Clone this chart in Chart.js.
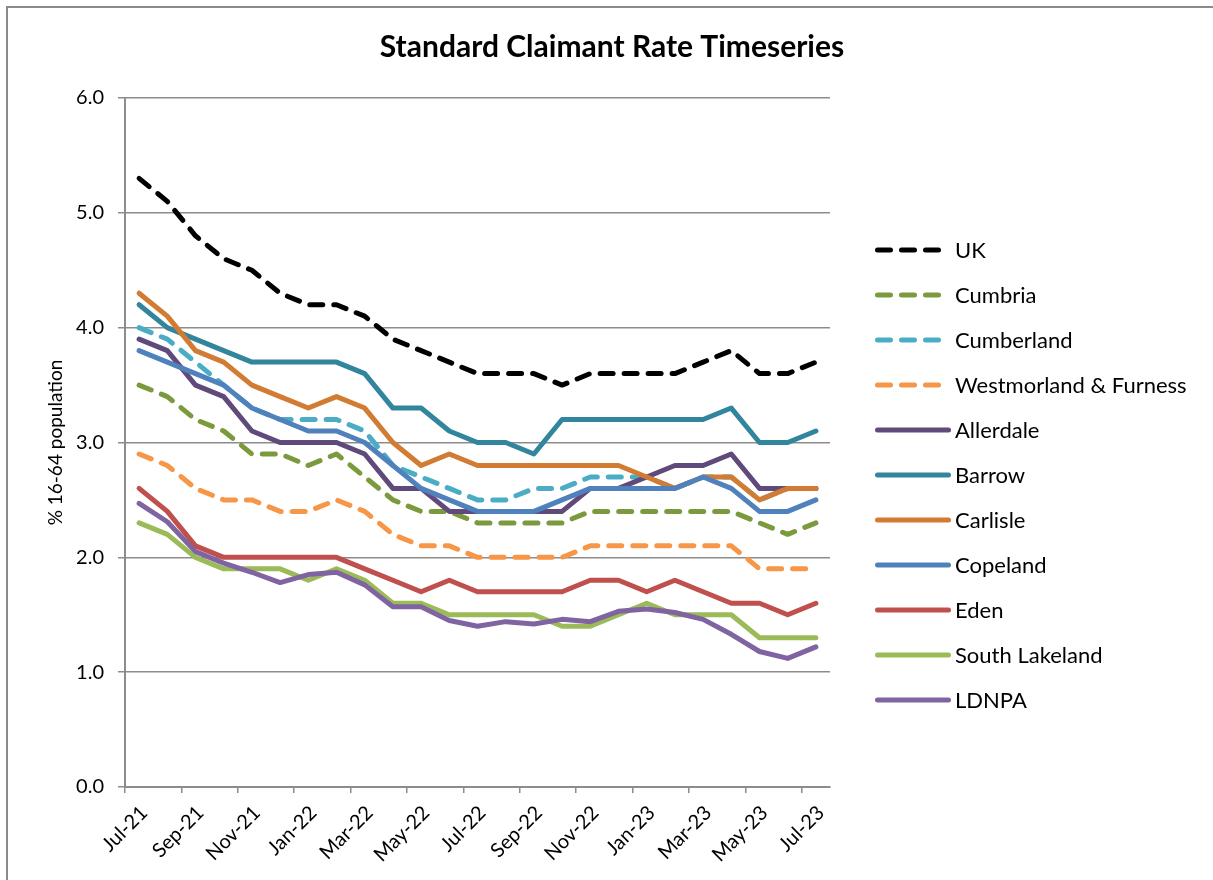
<!DOCTYPE html>
<html>
<head>
<meta charset="utf-8">
<title>Standard Claimant Rate Timeseries</title>
<script src="https://cdn.jsdelivr.net/npm/chart.js@4.4.1/dist/chart.umd.min.js"></script>
<style>
  body { margin: 0; background: #fff; font-family: Lato, sans-serif; }
  #frame { position: absolute; left: 6px; top: 6px; width: 1240px; height: 920px; border: 2px solid #8a8a8a; box-sizing: border-box; }
  #chart-wrap { position: absolute; left: 8px; top: 8px; width: 1208px; height: 880px; }
  #legend { position: absolute; left: 875px; top: 227px; }
  .legend-row { display: flex; align-items: center; height: 45px; font-size: 22px; color: #000; white-space: nowrap; }
  .legend-row svg { margin-right: 4px; }
</style>
</head>
<body>
<div id="frame"></div>
<div id="chart-wrap"><canvas id="rateChart" width="1208" height="880"></canvas></div>
<div id="legend"></div>
<script>
// months, Jul-21 .. Jul-23
const months = ["Jul-21", "Aug-21", "Sep-21", "Oct-21", "Nov-21", "Dec-21", "Jan-22", "Feb-22", "Mar-22",
  "Apr-22", "May-22", "Jun-22", "Jul-22", "Aug-22", "Sep-22", "Oct-22", "Nov-22", "Dec-22",
  "Jan-23", "Feb-23", "Mar-23", "Apr-23", "May-23", "Jun-23", "Jul-23"];

const uk = [5.3, 5.1, 4.8, 4.6, 4.5, 4.3, 4.2, 4.2, 4.1, 3.9, 3.8, 3.7, 3.6, 3.6, 3.6, 3.5, 3.6, 3.6, 3.6, 3.6, 3.7, 3.8, 3.6, 3.6, 3.7];
const cumbria = [3.5, 3.4, 3.2, 3.1, 2.9, 2.9, 2.8, 2.9, 2.7, 2.5, 2.4, 2.4, 2.3, 2.3, 2.3, 2.3, 2.4, 2.4, 2.4, 2.4, 2.4, 2.4, 2.3, 2.2, 2.3];
const cumberland = [4.0, 3.9, 3.7, 3.5, 3.3, 3.2, 3.2, 3.2, 3.1, 2.8, 2.7, 2.6, 2.5, 2.5, 2.6, 2.6, 2.7, 2.7, 2.7, 2.6, 2.7, 2.7, 2.5, 2.6, 2.6];
const westmorland = [2.9, 2.8, 2.6, 2.5, 2.5, 2.4, 2.4, 2.5, 2.4, 2.2, 2.1, 2.1, 2.0, 2.0, 2.0, 2.0, 2.1, 2.1, 2.1, 2.1, 2.1, 2.1, 1.9, 1.9, 1.9];
const allerdale = [3.9, 3.8, 3.5, 3.4, 3.1, 3.0, 3.0, 3.0, 2.9, 2.6, 2.6, 2.4, 2.4, 2.4, 2.4, 2.4, 2.6, 2.6, 2.7, 2.8, 2.8, 2.9, 2.6, 2.6, 2.6];
const barrow = [4.2, 4.0, 3.9, 3.8, 3.7, 3.7, 3.7, 3.7, 3.6, 3.3, 3.3, 3.1, 3.0, 3.0, 2.9, 3.2, 3.2, 3.2, 3.2, 3.2, 3.2, 3.3, 3.0, 3.0, 3.1];
const carlisle = [4.3, 4.1, 3.8, 3.7, 3.5, 3.4, 3.3, 3.4, 3.3, 3.0, 2.8, 2.9, 2.8, 2.8, 2.8, 2.8, 2.8, 2.8, 2.7, 2.6, 2.7, 2.7, 2.5, 2.6, 2.6];
const copeland = [3.8, 3.7, 3.6, 3.5, 3.3, 3.2, 3.1, 3.1, 3.0, 2.8, 2.6, 2.5, 2.4, 2.4, 2.4, 2.5, 2.6, 2.6, 2.6, 2.6, 2.7, 2.6, 2.4, 2.4, 2.5];
const eden = [2.6, 2.4, 2.1, 2.0, 2.0, 2.0, 2.0, 2.0, 1.9, 1.8, 1.7, 1.8, 1.7, 1.7, 1.7, 1.7, 1.8, 1.8, 1.7, 1.8, 1.7, 1.6, 1.6, 1.5, 1.6];
const southLakeland = [2.3, 2.2, 2.0, 1.9, 1.9, 1.9, 1.8, 1.9, 1.8, 1.6, 1.6, 1.5, 1.5, 1.5, 1.5, 1.4, 1.4, 1.5, 1.6, 1.5, 1.5, 1.5, 1.3, 1.3, 1.3];
const ldnpa = [2.47, 2.31, 2.05, 1.95, 1.87, 1.78, 1.85, 1.87, 1.76, 1.57, 1.57, 1.45, 1.40, 1.44, 1.42, 1.46, 1.44, 1.53, 1.55, 1.52, 1.46, 1.33, 1.18, 1.12, 1.22];

const seriesNames = ["UK", "Cumbria", "Cumberland", "Westmorland & Furness", "Allerdale", "Barrow",
  "Carlisle", "Copeland", "Eden", "South Lakeland", "LDNPA"];
const seriesValues = [uk, cumbria, cumberland, westmorland, allerdale, barrow, carlisle, copeland, eden, southLakeland, ldnpa];
const seriesColors = ["#000000", "#7b9a3e", "#4bacc6", "#f79646", "#604a7b", "#31859c",
  "#d17b33", "#4f81bd", "#c0504d", "#9bbb59", "#8064a2"];
const seriesDashed = [true, true, true, true, false, false, false, false, false, false, false];

const yTicks = [0, 1, 2, 3, 4, 5, 6];

const dashPattern = [13, 11];
const lineWidth = 5;
const gridGrey = "#8c8c8c";

Chart.defaults.font.family = "Lato, sans-serif";
Chart.defaults.color = "#000";

const datasets = seriesNames.map((name, i) => ({
  label: name,
  data: seriesValues[i],
  borderColor: seriesColors[i],
  backgroundColor: seriesColors[i],
  borderWidth: lineWidth,
  borderDash: seriesDashed[i] ? dashPattern : [],
  borderCapStyle: "round",
  borderJoinStyle: "round",
  pointRadius: 0,
  pointHoverRadius: 0,
  tension: 0,
  fill: false,
  // first series at the bottom, like the original
  order: seriesNames.length - i
}));

const ctx = document.getElementById("rateChart").getContext("2d");
new Chart(ctx, {
  type: "line",
  data: { labels: months, datasets: datasets },
  options: {
    responsive: false,
    animation: false,
    layout: { padding: 0 },
    plugins: {
      legend: { display: false },
      tooltip: { enabled: false },
      title: {
        display: true,
        text: "Standard Claimant Rate Timeseries",
        font: { size: 30, weight: "bold" },
        color: "#000",
        padding: { top: 21, bottom: 33 }
      }
    },
    scales: {
      x: {
        offset: true,
        grid: {
          offset: true,
          drawOnChartArea: false,
          tickLength: 6,
          lineWidth: 1.5,
          color: (c) => (c.index % 2 === 0 ? gridGrey : "rgba(0,0,0,0)")
        },
        border: { color: gridGrey, width: 2 },
        ticks: {
          autoSkip: false,
          minRotation: 45,
          maxRotation: 45,
          labelOffset: 5,
          padding: 8,
          font: { size: 20 },
          color: "#000",
          callback: (v, i) => (i % 2 === 0 ? months[i] : "")
        },
        afterFit: (scale) => { scale.height = 101; }
      },
      y: {
        min: yTicks[0],
        max: yTicks[yTicks.length - 1],
        afterBuildTicks: (scale) => { scale.ticks = yTicks.map(v => ({ value: v })); },
        grid: { color: gridGrey, lineWidth: 1.5, tickLength: 7 },
        border: { color: gridGrey, width: 2 },
        ticks: {
          padding: 14,
          font: { size: 20 },
          color: "#000",
          callback: (v) => Number(v).toFixed(1)
        },
        title: {
          display: true,
          text: "% 16-64 population",
          font: { size: 19 },
          color: "#000",
          padding: { top: 36.6, bottom: 0 }
        },
        afterFit: (scale) => { scale.width = 117; }
      },
      // empty right-hand scale, keeps room for the legend
      y2: {
        position: "right",
        grid: { display: false },
        border: { display: false },
        ticks: { display: false },
        afterFit: (scale) => { scale.width = 386; }
      }
    }
  }
});

// legend on the right, built from the same series lists
const legendBox = document.getElementById("legend");
seriesNames.forEach((name, i) => {
  const row = document.createElement("div");
  row.className = "legend-row";
  const dash = seriesDashed[i] ? `stroke-dasharray="${dashPattern.join(" ")}"` : "";
  row.innerHTML = `
    <svg width="76" height="10">
      <line x1="2.5" y1="5" x2="73.5" y2="5" stroke="${seriesColors[i]}" stroke-width="${lineWidth}"
            stroke-linecap="round" ${dash}></line>
    </svg>
    <span></span>`;
  row.querySelector("span").textContent = name;
  legendBox.appendChild(row);
});
</script>
</body>
</html>
